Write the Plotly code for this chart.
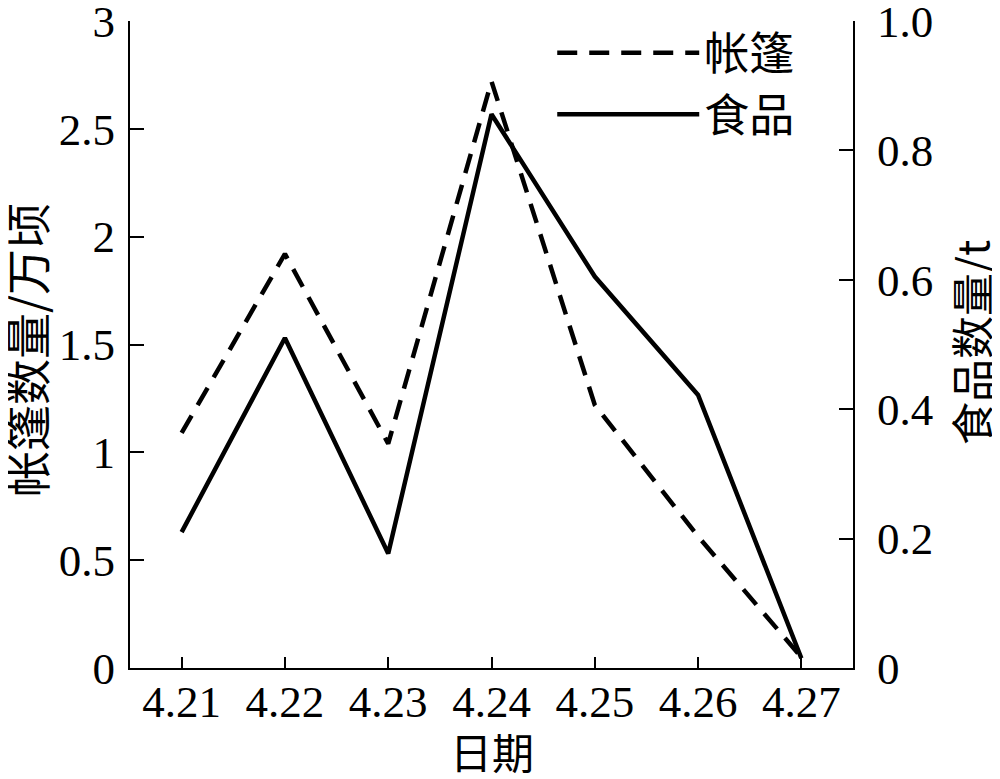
import plotly.graph_objects as go

dates = ["4.21", "4.22", "4.23", "4.24", "4.25", "4.26", "4.27"]
tents = [1.09, 1.92, 1.04, 2.72, 1.22, 0.61, 0.05]   # 万顷
food = [0.21, 0.51, 0.177, 0.856, 0.605, 0.422, 0.015]  # t

left_ticks = [0, 0.5, 1, 1.5, 2, 2.5, 3]
left_labels = ["0", "0.5", "1", "1.5", "2", "2.5", "3"]
right_ticks = [0, 0.2, 0.4, 0.6, 0.8, 1.0]
right_labels = ["0", "0.2", "0.4", "0.6", "0.8", "1.0"]

x_title = "日期"
y_title = "帐篷数量/万顷"
y2_title = "食品数量/t"

FONT = "Liberation Serif, Times New Roman, Noto Sans CJK SC, serif"
CJK = "Noto Sans CJK SC"

fig = go.Figure()
fig.add_trace(go.Scatter(x=dates, y=tents, mode="lines", name="帐篷",
                         line=dict(color="black", width=4.5, dash="20px,12px")))
fig.add_trace(go.Scatter(x=dates, y=food, mode="lines", name="食品", yaxis="y2",
                         line=dict(color="black", width=4.5)))

axis_common = dict(showline=True, linecolor="black", linewidth=2, ticks="inside",
                   tickcolor="black", tickwidth=2, showgrid=False, zeroline=False,
                   automargin=False, ticklabeloverflow="allow",
                   tickfont=dict(family=FONT, size=45, color="black"))

fig.update_layout(
    width=1000, height=779,
    margin=dict(l=122, r=155, t=13, b=119, autoexpand=False),
    plot_bgcolor="white", paper_bgcolor="white",
    font=dict(family=FONT, color="black", size=45),
    xaxis=dict(axis_common, type="category", range=[-0.5, 6.5], ticklen=11,
               tickvals=dates, ticktext=dates, ticklabelstandoff=-7),
    yaxis=dict(axis_common, range=[0, 3], ticklen=14, tickvals=left_ticks, ticktext=left_labels,
               ticklabelstandoff=4),
    yaxis2=dict(axis_common, range=[0, 1], ticklen=14, overlaying="y", side="right",
                tickvals=right_ticks, ticktext=right_labels, ticklabelstandoff=13),
    showlegend=True,
    legend=dict(x=0.584, y=1.006, xanchor="left", yanchor="top", bgcolor="rgba(0,0,0,0)",
                font=dict(size=45, family=CJK), itemwidth=142,
                tracegroupgap=0, traceorder="normal"),
    annotations=[
        dict(text=x_title, xref="paper", yref="paper", x=0.5, y=-0.128,
             xanchor="center", yanchor="middle", showarrow=False,
             font=dict(size=42, family=CJK, color="black")),
        dict(text=y_title, xref="paper", yref="paper", x=-0.1452, y=0.4915,
             xanchor="center", yanchor="middle", showarrow=False, textangle=-90,
             font=dict(size=46, family=CJK, color="black")),
        dict(text=y2_title, xref="paper", yref="paper", x=1.1618, y=0.504,
             xanchor="center", yanchor="middle", showarrow=False, textangle=-90,
             font=dict(size=43, family=CJK, color="black")),
    ],
)

fig.write_html("out.html")
